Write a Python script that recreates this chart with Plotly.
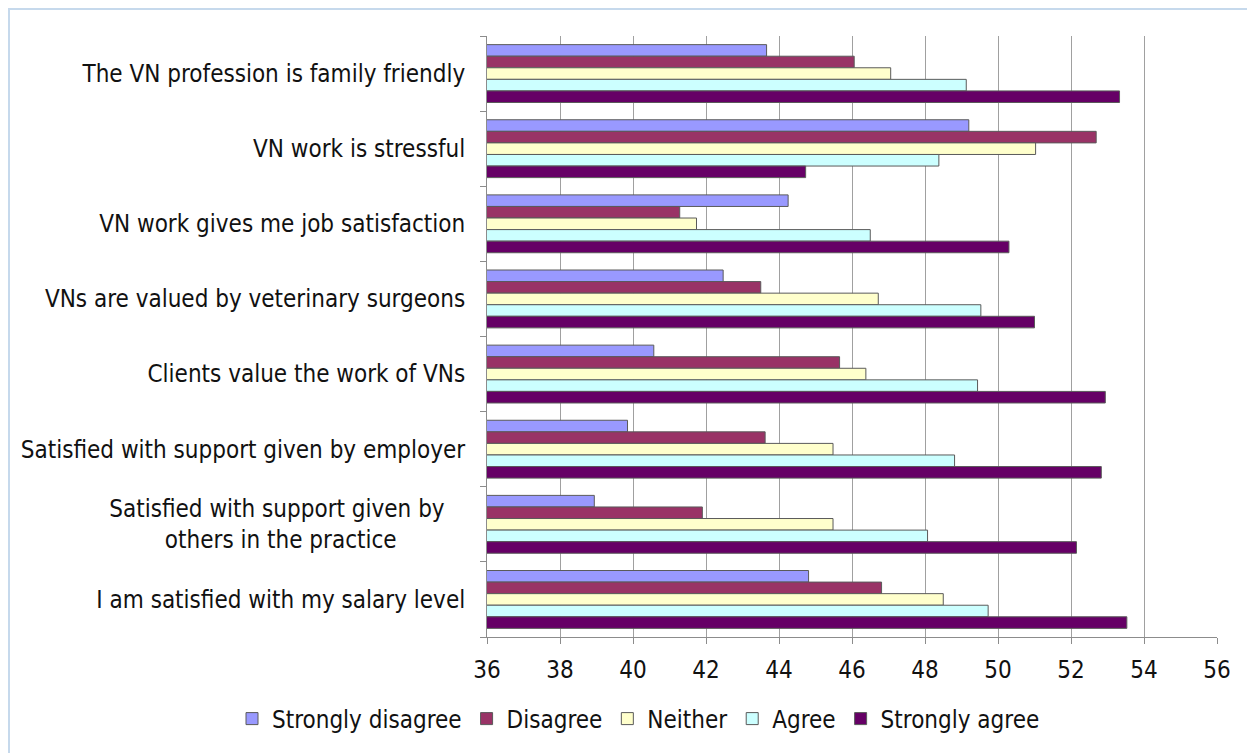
import plotly.graph_objects as go

categories = [
    "The VN profession is family friendly",
    "VN work is stressful",
    "VN work gives me job satisfaction",
    "VNs are valued by veterinary surgeons",
    "Clients value the work of VNs",
    "Satisfied with support given by employer",
    "Satisfied with support given by others in the practice",
    "I am satisfied with my salary level",
]
NB = "\u00a0"
category_labels = [
    "The VN profession is family friendly",
    "VN work is stressful",
    "VN work gives me job satisfaction",
    "VNs are valued by veterinary surgeons",
    "Clients value the work of VNs",
    "Satisfied with support given by employer",
    "Satisfied with support given by" + NB * 3 + "<br>others in the practice" + NB * 10,
    "I am satisfied with my salary level",
]
series_names = ["Strongly disagree", "Disagree", "Neither", "Agree", "Strongly agree"]
strongly_disagree = [43.66, 49.20, 44.25, 42.47, 40.57, 39.85, 38.94, 44.81]
disagree = [46.06, 52.69, 41.28, 43.50, 45.66, 43.62, 41.90, 46.81]
neither = [47.06, 51.03, 41.74, 46.72, 46.38, 45.48, 45.48, 48.50]
agree = [49.13, 48.38, 46.50, 49.53, 49.44, 48.81, 48.07, 49.73]
strongly_agree = [53.33, 44.73, 50.30, 51.00, 52.94, 52.83, 52.15, 53.53]
x_ticks = [36, 38, 40, 42, 44, 46, 48, 50, 52, 54, 56]

colors = ["#9999FF", "#993366", "#FFFFCC", "#CCFFFF", "#660066"]
series_values = [strongly_disagree, disagree, neither, agree, strongly_agree]

FONT = "DejaVu Sans Condensed, DejaVu Sans, sans-serif"

fig = go.Figure()
for name, vals, col in zip(series_names, series_values, colors):
    fig.add_trace(go.Bar(
        y=categories, x=vals, name=name, orientation="h",
        marker=dict(color=col, line=dict(color="#5a5a5a", width=1)),
    ))

W, H = 1247, 745
L, R, T, B = 479, 38, 28, 116
pw, ph = W - L - R, H - T - B

def px2paper_x(px):
    return (px - L) / pw

def py2paper_y(py):
    return 1 - (py - T) / ph

fig.add_shape(type="rect", xref="paper", yref="paper",
              x0=px2paper_x(1), x1=px2paper_x(1243),
              y0=py2paper_y(760), y1=py2paper_y(1),
              line=dict(color="#c6d9ec", width=2), fillcolor="rgba(0,0,0,0)",
              layer="below")

fig.update_layout(
    width=W, height=H,
    margin=dict(l=L, r=R, t=T, b=B, pad=0),
    paper_bgcolor="white", plot_bgcolor="white",
    barmode="group", bargap=0.23, bargroupgap=0,
    font=dict(family=FONT, size=24, color="#111111"),
    showlegend=True,
    legend=dict(orientation="h", xref="paper", yref="paper",
                x=px2paper_x(224), xanchor="left",
                y=py2paper_y(711), yanchor="middle",
                font=dict(size=24), itemwidth=30, traceorder="normal",
                bgcolor="rgba(0,0,0,0)", itemclick=False),
    xaxis=dict(range=[36, 56], tickvals=x_ticks, ticktext=[str(v) for v in x_ticks],
               showgrid=True, gridcolor="#a0a0a0", gridwidth=1,
               showline=True, linecolor="#8c8c8c", linewidth=1,
               ticks="outside", ticklen=6, tickcolor="#8c8c8c",
               ticklabelstandoff=5, zeroline=False, fixedrange=True),
    yaxis=dict(autorange="reversed", tickvals=categories, ticktext=category_labels,
               type="category", showgrid=False,
               showline=True, linecolor="#8c8c8c", linewidth=1,
               ticks="outside", ticklen=6, tickcolor="#8c8c8c",
               tickson="boundaries", ticklabelstandoff=16, fixedrange=True),
)

fig.write_html("out.html")
